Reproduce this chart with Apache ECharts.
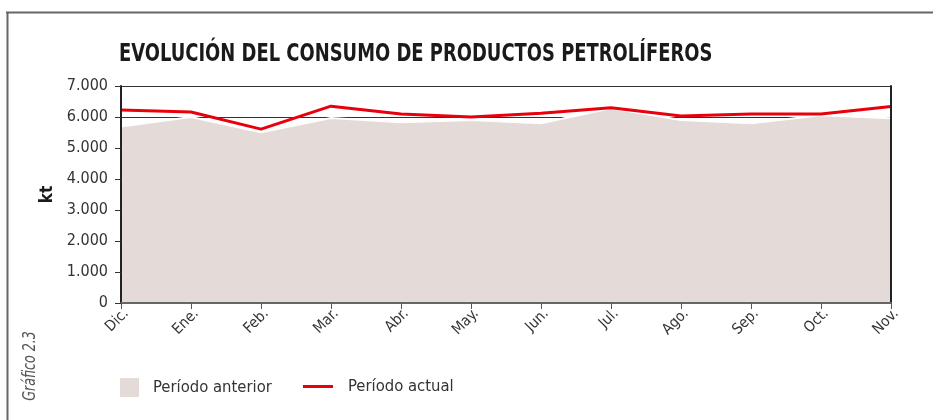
<!DOCTYPE html>
<html>
<head>
<meta charset="utf-8">
<script src="https://cdn.jsdelivr.net/npm/echarts@6/dist/echarts.min.js"></script>
<style>
  html, body { margin: 0; padding: 0; background: #fff; }
  #chart { width: 933px; height: 420px; }
</style>
</head>
<body>
<div id="chart"></div>
<script>
const months = ['Dic.', 'Ene.', 'Feb.', 'Mar.', 'Abr.', 'May.', 'Jun.', 'Jul.', 'Ago.', 'Sep.', 'Oct.', 'Nov.'];
const periodoAnterior = [5690, 6000, 5510, 5970, 5830, 5900, 5800, 6280, 5900, 5800, 6060, 5960];
const periodoActual = [6225, 6160, 5610, 6350, 6100, 6000, 6120, 6300, 6030, 6100, 6100, 6340];

const FONT = '"DejaVu Sans Condensed", "Liberation Sans", sans-serif';
const AREA = '#e4dad8';
const RED = '#e8000d';

const chart = echarts.init(document.getElementById('chart'));
chart.setOption({
  animation: false,
  textStyle: { fontFamily: FONT },
  legend: [
    {
      left: 120, top: 378, padding: 0,
      icon: 'rect', itemWidth: 19, itemHeight: 19,
      data: [{ name: 'Período anterior', itemStyle: { color: AREA } }],
      textStyle: { fontFamily: FONT, fontSize: 16.5, color: '#333', padding: [0, 0, 0, 9] }
    },
    {
      left: 303, top: 378, padding: 0,
      icon: 'rect', itemWidth: 30, itemHeight: 3,
      data: [{ name: 'Período actual', itemStyle: { color: RED } }],
      textStyle: { fontFamily: FONT, fontSize: 16.5, color: '#333', padding: [0, 0, 0, 10] }
    }
  ],
  grid: { left: 121, right: 42, top: 86, bottom: 117 },
  xAxis: {
    type: 'category',
    data: months,
    boundaryGap: false,
    z: 10,
    axisLine: { lineStyle: { color: '#666', width: 2 } },
    axisTick: { show: true, length: 6, lineStyle: { color: '#555' } },
    axisLabel: { rotate: 45, fontFamily: FONT, fontSize: 15, color: '#333', margin: 3, verticalAlign: 'top' },
    splitLine: { show: false }
  },
  yAxis: [
    {
      type: 'value', min: 0, max: 7000, interval: 1000,
      z: 10,
      name: 'kt', nameLocation: 'middle', nameGap: 58, nameRotate: 90,
      nameTextStyle: { fontFamily: FONT, fontSize: 17, fontWeight: 'bold', color: '#1a1a1a' },
      axisLine: { show: true, lineStyle: { color: '#222', width: 2 } },
      axisTick: { show: true, length: 6, lineStyle: { color: '#333' } },
      axisLabel: {
        fontFamily: FONT, fontSize: 16, color: '#333', margin: 13,
        formatter: v => v === 0 ? '0' : (v / 1000).toFixed(0) + '.000'
      },
      splitLine: { show: false }
    },
    {
      type: 'value', min: 0, max: 7000, interval: 1000, position: 'right',
      z: 10,
      axisLine: { show: true, lineStyle: { color: '#222', width: 2 } },
      axisTick: { show: false }, axisLabel: { show: false }, splitLine: { show: false }
    },
    {
      type: 'value', min: 0, max: 7000, interval: 1000,
      z: 0,
      axisLine: { show: false }, axisTick: { show: false }, axisLabel: { show: false },
      splitLine: { show: true, lineStyle: { color: '#333', width: 1.2 } }
    }
  ],
  series: [
    {
      name: 'Período anterior',
      type: 'line',
      data: periodoAnterior,
      yAxisIndex: 0,
      showSymbol: false,
      itemStyle: { color: AREA },
      lineStyle: { color: '#fff', width: 2 },
      areaStyle: { color: AREA, opacity: 1 },
      z: 2
    },
    {
      name: 'Período actual',
      type: 'line',
      data: periodoActual,
      yAxisIndex: 0,
      showSymbol: false,
      itemStyle: { color: RED },
      lineStyle: { color: RED, width: 3 },
      z: 3
    }
  ],
  graphic: [
    { type: 'line', shape: { x1: 6, y1: 12.5, x2: 933, y2: 12.5 }, style: { stroke: '#666', lineWidth: 2 } },
    { type: 'line', shape: { x1: 7.5, y1: 12, x2: 7.5, y2: 420 }, style: { stroke: '#666', lineWidth: 2 } },
    {
      type: 'text', x: 119, y: 55, scaleX: 0.83,
      style: {
        text: 'EVOLUCIÓN DEL CONSUMO DE PRODUCTOS PETROLÍFEROS', fontFamily: FONT, fontSize: 24,
        fontWeight: 'bold', fill: '#1a1a1a', align: 'left', verticalAlign: 'middle'
      }
    },
    {
      type: 'text', x: 30, y: 366, rotation: Math.PI / 2, scaleX: 0.78,
      style: {
        text: 'Gráfico 2.3', fontFamily: FONT, fontSize: 18, fontStyle: 'italic',
        fill: '#555', align: 'center', verticalAlign: 'middle'
      }
    }
  ]
});
</script>
</body>
</html>
